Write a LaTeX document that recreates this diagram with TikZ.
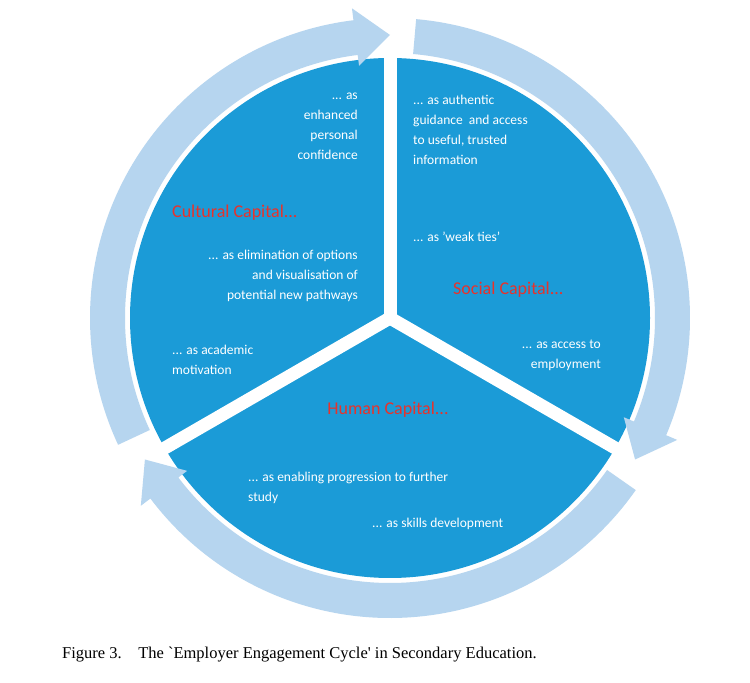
\documentclass[tikz,border=0pt]{standalone}
\usepackage{fontspec}
\setmainfont{Carlito}
\newfontfamily\capfont{Liberation Serif}
\definecolor{pie}{HTML}{1B9BD7}
\definecolor{band}{HTML}{B6D5EF}
\definecolor{capred}{HTML}{E8322B}
\begin{document}
\begin{tikzpicture}[x=1pt,y=1pt,
  txt/.style={text=white,font=\fontsize{13.5}{20}\selectfont,inner sep=0pt},
  capital/.style={text=capred,font=\fontsize{18}{20}\selectfont,inner sep=0pt},
  gap/.style={white,line width=13pt}]
\useasboundingbox[fill=white] (0,0) rectangle (750,683);
\begin{scope}[shift={(390,365)}]
  \coordinate (c) at (0,0);
  \fill[pie] (c) circle (260);
  \foreach \a in {90,-30,210} \draw[gap] (c) -- (\a:275);
  % arrows
  \foreach \s/\e in {205/97, 85/-23, -35/-143} {
    \fill[band] (\s:265) arc (\s:\e:265) -- (\e:254) -- (\e-7:283) -- (\e:312) -- (\e:300) arc (\e:\s:300) -- cycle;
  }
\end{scope}
\node[txt,align=right,anchor=north east] (t1) at (358,590) {... as\\enhanced\\personal\\confidence};
\node[capital,anchor=west] (cc) at (172,470) {Cultural Capital...};
\node[txt,align=right,anchor=north east] (t2) at (358,433) {... as elimination of options\\and visualisation of\\potential new pathways};
\node[txt,align=left,anchor=north west] (t3) at (172,338) {... as academic\\motivation};
\node[txt,align=left,anchor=north west] (t4) at (413,588) {... as authentic\\guidance~ and access\\to useful, trusted\\information};
\node[txt,anchor=west] (t5) at (413,446) {... as 'weak ties'};
\node[capital,anchor=west] (sc) at (453,393) {Social Capital...};
\node[txt,align=right,anchor=north east] (t6) at (601,343) {... as access to\\employment};
\node[capital] (hc) at (388,273) {Human Capital...};
\node[txt,align=left,anchor=north west] (t7) at (248,211) {... as enabling progression to further\\study};
\node[txt,anchor=west] (t8) at (372,159) {... as skills development};
\node[anchor=west,inner sep=0pt,font=\capfont\fontsize{16.5}{18}\selectfont] (fig) at (62,28) {Figure 3.\quad The `Employer Engagement Cycle' in Secondary Education.};
\end{tikzpicture}
\end{document}
